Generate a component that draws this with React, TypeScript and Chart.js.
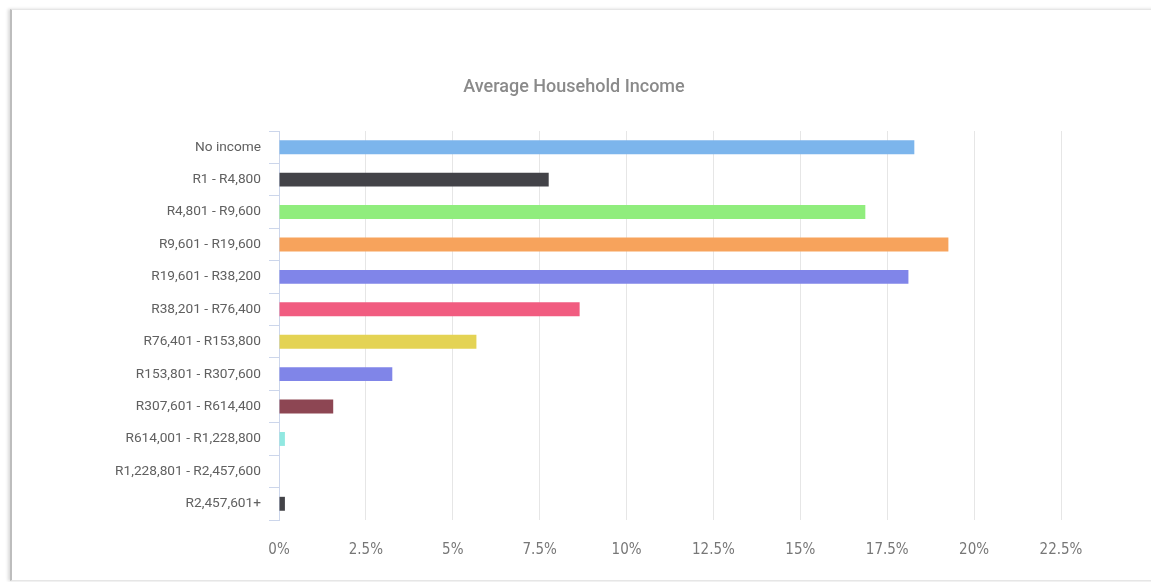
import React, { useEffect, useRef } from "react";
import { Chart, registerables } from "chart.js";

Chart.register(...registerables);

const categories = [
  "No income",
  "R1 - R4,800",
  "R4,801 - R9,600",
  "R9,601 - R19,600",
  "R19,601 - R38,200",
  "R38,201 - R76,400",
  "R76,401 - R153,800",
  "R153,801 - R307,600",
  "R307,601 - R614,400",
  "R614,001 - R1,228,800",
  "R1,228,801 - R2,457,600",
  "R2,457,601+",
];

const values = [18.28, 7.76, 16.87, 19.26, 18.11, 8.65, 5.68, 3.26, 1.56, 0.17, 0, 0.17];

const colors = [
  "#7cb5ec",
  "#434348",
  "#90ed7d",
  "#f7a35c",
  "#8085e9",
  "#f15c80",
  "#e4d354",
  "#8085e8",
  "#8d4653",
  "#91e8e1",
  "#7cb5ec",
  "#434348",
];

const xMin = 0;
const xMax = 22.5;
const xStep = 2.5;

const titleText = "Average Household Income";

const narrow = "'Liberation Sans Narrow', 'DejaVu Sans Condensed', sans-serif";

export default function App() {
  const ref = useRef<HTMLCanvasElement | null>(null);

  useEffect(() => {
    if (!ref.current) return;
    const chart = new Chart(ref.current, {
      type: "bar",
      data: {
        labels: categories,
        datasets: [
          {
            data: values,
            backgroundColor: colors,
            borderWidth: 0,
            categoryPercentage: 1,
            barPercentage: 0.43,
          },
        ],
      },
      options: {
        indexAxis: "y",
        animation: false,
        responsive: false,
        maintainAspectRatio: false,
        layout: { padding: { top: 77, left: 87, right: 90, bottom: 0 } },
        plugins: {
          legend: { display: false },
          tooltip: { enabled: false },
          title: {
            display: true,
            text: titleText,
            color: "#8a8a8a",
            font: { family: "Roboto", size: 18, weight: "500" },
            padding: { top: 0, bottom: 32.4 },
          },
        },
        scales: {
          x: {
            min: xMin,
            max: xMax,
            ticks: {
              stepSize: xStep,
              color: "#777",
              font: { family: narrow, size: 15 },
              padding: 21,
              callback: (v: any) => `${v}%`,
            },
            grid: { color: "#e6e6e6", drawTicks: false, lineWidth: 1 },
            border: { display: false },
            afterFit: (scale: any) => {
              scale.height = 582 - 520;
            },
          },
          y: {
            ticks: {
              color: "#606060",
              font: { family: "Roboto", size: 13.7 },
              padding: 8,
            },
            grid: {
              drawOnChartArea: false,
              drawTicks: true,
              tickLength: 10,
              tickColor: "#ccd6eb",
              offset: true,
            },
            border: { display: true, color: "#ccd6eb", width: 1 },
            afterFit: (scale: any) => {
              scale.width = 279 - 87;
            },
          },
        },
      },
    });
    return () => chart.destroy();
  }, []);

  return (
    <div style={{ position: "fixed", left: 0, top: 0, width: 1151, height: 582, background: "#fff", overflow: "hidden" }}>
      <div
        style={{
          position: "absolute",
          left: 10,
          top: 9,
          width: 1160,
          height: 570,
          borderTop: "1px solid #e6e6e6",
          borderBottom: "1px solid #e6e6e6",
          borderLeft: "2px solid #bdbdbd",
          boxShadow: "-2px 0 3px rgba(0,0,0,0.15)",
        }}
      />
      <canvas ref={ref} width={1151} height={582} style={{ position: "absolute", left: 0, top: 0 }} />
    </div>
  );
}
